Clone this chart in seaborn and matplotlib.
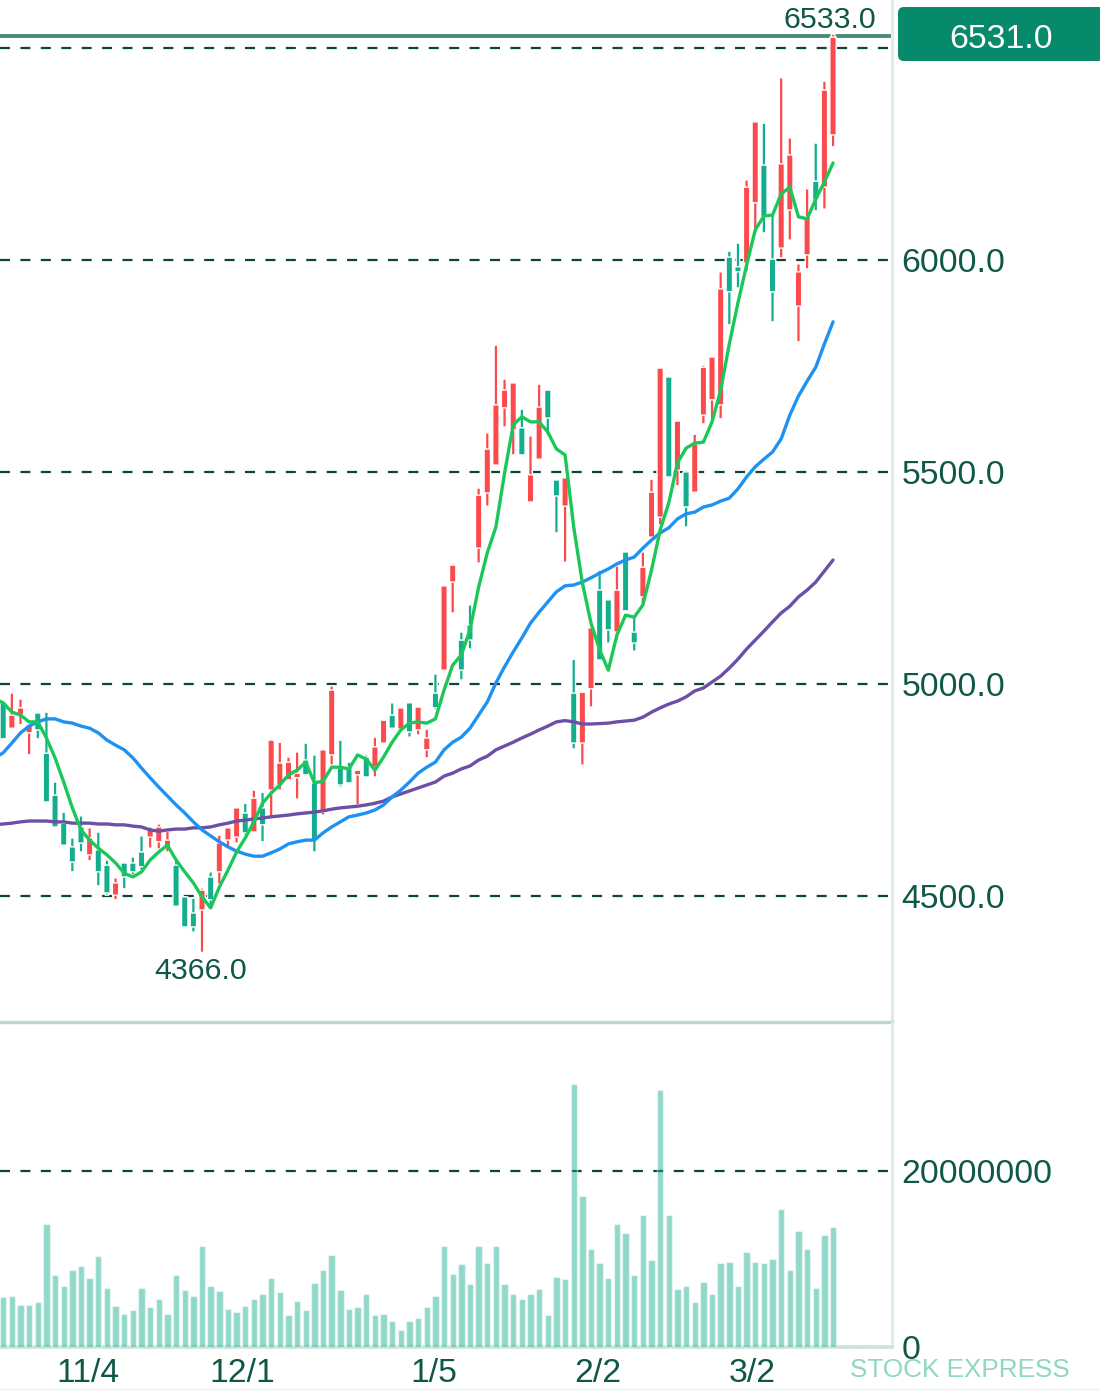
import numpy as np
import pandas as pd
import matplotlib
matplotlib.use("Agg")
import matplotlib.pyplot as plt
from matplotlib.patches import FancyBboxPatch
from matplotlib.lines import Line2D
import seaborn as sns

# prices, one entry per trading day
open_ = [4955, 4895, 4926, 4884, 4931, 4836, 4737, 4671, 4615, 4662, 4596, 4608, 4572, 4501, 4577, 4577, 4603, 4638, 4627, 4615,
         4572, 4497, 4459, 4466, 4544, 4556, 4631, 4638, 4695, 4650, 4707, 4749, 4761, 4773, 4778, 4820, 4766, 4697, 4832, 4801,
         4803, 4785, 4827, 4803, 4860, 4926, 4893, 4955, 4891, 4844, 4978, 5032, 5240, 5103, 5139, 5320, 5450, 5516, 5651, 5599,
         5604, 5429, 5530, 5693, 5481, 5419, 4978, 4860, 4988, 5221, 5198, 5122, 5311, 5122, 5205, 5346, 5393, 5724, 5504, 5500,
         5452, 5634, 5670, 5658, 6007, 5984, 5993, 6135, 6224, 6002, 6028, 6118, 5891, 6012, 6186, 6172, 6295]
high = [4955, 4978, 4964, 4907, 4931, 4933, 4768, 4697, 4636, 4688, 4660, 4650, 4584, 4542, 4577, 4591, 4641, 4662, 4669, 4652,
        4589, 4497, 4494, 4518, 4556, 4643, 4660, 4707, 4718, 4749, 4744, 4870, 4862, 4827, 4839, 4860, 4832, 4846, 4995, 4867,
        4815, 4796, 4832, 4874, 4914, 4955, 4943, 4955, 4945, 4893, 5023, 5233, 5283, 5122, 5186, 5462, 5592, 5799, 5719, 5710,
        5648, 5585, 5707, 5693, 5481, 5488, 5058, 4980, 5132, 5268, 5198, 5278, 5311, 5162, 5311, 5483, 5745, 5724, 5620, 5504,
        5589, 5752, 5771, 5972, 6021, 6040, 6189, 6326, 6323, 6111, 6430, 6288, 5991, 6168, 6276, 6422, 6533]
low = [4870, 4891, 4903, 4832, 4870, 4721, 4662, 4617, 4556, 4603, 4582, 4523, 4501, 4490, 4516, 4549, 4560, 4612, 4610, 4603,
       4475, 4426, 4414, 4366, 4471, 4527, 4612, 4624, 4643, 4650, 4627, 4685, 4749, 4773, 4728, 4782, 4603, 4690, 4808, 4756,
       4766, 4714, 4780, 4780, 4858, 4891, 4893, 4874, 4879, 4825, 4938, 5030, 5167, 5009, 5082, 5285, 5419, 5516, 5606, 5540,
       5540, 5429, 5530, 5587, 5356, 5287, 4846, 4808, 4945, 5056, 5096, 5103, 5172, 5077, 5186, 5344, 5375, 5488, 5467, 5370,
       5450, 5613, 5622, 5625, 5847, 5934, 5972, 6066, 6064, 5854, 6005, 6047, 5807, 5979, 6116, 6120, 6267]
close = [4870, 4926, 4943, 4903, 4891, 4721, 4662, 4619, 4579, 4624, 4636, 4556, 4506, 4530, 4544, 4556, 4568, 4655, 4662, 4631,
         4475, 4426, 4426, 4513, 4490, 4624, 4660, 4707, 4648, 4730, 4667, 4867, 4813, 4815, 4789, 4785, 4631, 4844, 4985, 4761,
         4766, 4796, 4780, 4851, 4914, 4895, 4943, 4886, 4945, 4872, 4943, 5231, 5280, 5032, 5103, 5445, 5554, 5658, 5693, 5710,
         5540, 5493, 5653, 5627, 5443, 5486, 4860, 4980, 5132, 5056, 5127, 5221, 5172, 5096, 5275, 5452, 5745, 5488, 5620, 5417,
         5566, 5747, 5771, 5932, 5925, 5972, 6172, 6326, 6102, 5925, 6227, 6248, 5972, 6102, 6142, 6401, 6526]

# moving averages start one day earlier, the lines run off the left edge
ma5 = [4964, 4955, 4933, 4926, 4910, 4910, 4872, 4825, 4768, 4707, 4655, 4631, 4612, 4596, 4577, 4553, 4544, 4556, 4584, 4603, 4619,
       4584, 4556, 4530, 4497, 4471, 4520, 4560, 4603, 4636, 4674, 4718, 4742, 4761, 4785, 4796, 4815, 4766, 4770, 4803, 4803,
       4799, 4832, 4822, 4796, 4827, 4862, 4891, 4907, 4910, 4907, 4917, 4985, 5044, 5068, 5127, 5228, 5309, 5370, 5497, 5611,
       5630, 5618, 5618, 5594, 5554, 5540, 5370, 5238, 5143, 5080, 5032, 5115, 5162, 5157, 5186, 5268, 5363, 5427, 5521, 5556,
       5568, 5570, 5618, 5693, 5802, 5899, 5988, 6071, 6104, 6106, 6156, 6172, 6102, 6097, 6144, 6184, 6229]
ma20 = [4825, 4837, 4860, 4884, 4900, 4910, 4917, 4917, 4910, 4907, 4900, 4895, 4884, 4867, 4855, 4844, 4825, 4801, 4778, 4756, 4735,
        4714, 4695, 4674, 4655, 4641, 4627, 4615, 4605, 4598, 4593, 4593, 4601, 4610, 4622, 4627, 4631, 4631, 4648, 4662, 4674,
        4686, 4690, 4695, 4702, 4714, 4733, 4749, 4768, 4789, 4803, 4815, 4844, 4862, 4874, 4895, 4926, 4957, 5002, 5040, 5075,
        5108, 5143, 5169, 5193, 5217, 5231, 5233, 5240, 5250, 5261, 5271, 5283, 5292, 5299, 5320, 5339, 5356, 5368, 5389, 5401,
        5405, 5417, 5422, 5431, 5438, 5460, 5488, 5512, 5530, 5547, 5578, 5634, 5679, 5714, 5747, 5802, 5854]
ma60 = [4667, 4669, 4671, 4674, 4676, 4676, 4676, 4674, 4674, 4671, 4671, 4671, 4669, 4669, 4667, 4667, 4664, 4662, 4655, 4652, 4655,
        4657, 4657, 4660, 4660, 4662, 4667, 4671, 4676, 4678, 4681, 4683, 4686, 4688, 4690, 4693, 4695, 4697, 4700, 4704, 4707,
        4709, 4711, 4714, 4718, 4723, 4733, 4740, 4747, 4754, 4761, 4768, 4782, 4789, 4799, 4806, 4820, 4829, 4844, 4853, 4862,
        4872, 4881, 4891, 4900, 4910, 4913, 4910, 4905, 4905, 4906, 4907, 4910, 4912, 4914, 4921, 4933, 4943, 4952, 4959, 4969,
        4983, 4990, 5004, 5018, 5037, 5058, 5082, 5103, 5124, 5146, 5167, 5183, 5205, 5221, 5240, 5266, 5292]

# volume in millions of shares
volume_m = [5.7, 5.8, 4.8, 4.8, 5.1, 14.0, 8.2, 6.9, 8.7, 9.2, 7.8, 10.3, 6.7, 4.7, 3.8, 4.2, 6.7, 4.5, 5.5, 3.8,
            8.2, 6.5, 5.8, 11.5, 6.9, 6.4, 4.3, 4.0, 4.7, 5.5, 6.0, 7.8, 6.3, 3.6, 5.2, 4.2, 7.3, 8.7, 10.5, 6.5,
            4.3, 4.5, 6.0, 3.6, 3.8, 3.0, 1.9, 3.0, 3.3, 4.6, 5.8, 11.5, 8.3, 9.4, 7.2, 11.5, 9.5, 11.5, 7.2, 6.0,
            5.5, 6.0, 6.6, 3.6, 8.0, 7.7, 29.9, 17.1, 11.1, 9.5, 7.8, 14.0, 13.0, 8.2, 15.0, 9.9, 29.2, 15.0, 6.6, 6.9,
            5.1, 7.4, 6.0, 9.5, 9.7, 6.9, 10.8, 9.6, 9.5, 10.0, 15.7, 8.8, 13.2, 11.1, 6.7, 12.7, 13.6]

price_ticks = [4500, 5000, 5500, 6000, 6500]
volume_ticks = [0, 20000000]
date_ticks = [9.8, 27.7, 49.8, 68.8, 86.7]
date_labels = ["11/4", "12/1", "1/5", "2/2", "3/2"]
last_price = 6531.0

df = pd.DataFrame({"open": open_, "high": high, "low": low, "close": close})
df["volume"] = np.array(volume_m) * 1000000
df["day"] = np.arange(len(df))
lines = pd.DataFrame({"ma5": ma5, "ma20": ma20, "ma60": ma60})
lines["day"] = np.arange(len(lines)) - 1

RED = "#FB4A4C"
GREEN = "#14AE8E"
TEXT = "#0F5747"
PALE = "#DDEDE9"
GRID = "#0D4637"

sns.set_theme(style="white")
plt.rcParams["font.family"] = ["Liberation Sans", "DejaVu Sans"]
plt.rcParams["lines.scale_dashes"] = False

W, H = 1100, 1399
fig = plt.figure(figsize=(W / 100, H / 100), dpi=100)
ax = fig.add_axes([0, (H - 1022) / H, 892 / W, 1022 / H])
vol_ax = fig.add_axes([0, (H - 1347) / H, 892 / W, 324 / H])

xlim = (-0.37, 102.82)

# candles, snapping off so that the thin wicks keep their width
colors = np.where(df["close"] >= df["open"], RED, GREEN)
wicks = ax.bar(df["day"], df["high"] - df["low"], bottom=df["low"], width=0.42, color=colors, zorder=3)
bodies = ax.bar(df["day"], (df["close"] - df["open"]).abs(), bottom=df[["open", "close"]].min(axis=1),
                width=0.74, color=colors, zorder=3)
for patch in list(wicks) + list(bodies):
    patch.set_snap(False)

# moving averages
sns.lineplot(data=lines, x="day", y="ma60", ax=ax, color="#6C4FA6", lw=2.4, errorbar=None, zorder=4)
sns.lineplot(data=lines, x="day", y="ma20", ax=ax, color="#1E92F2", lw=2.4, errorbar=None, zorder=4)
sns.lineplot(data=lines, x="day", y="ma5", ax=ax, color="#1CC75A", lw=2.4, errorbar=None, zorder=5)

for p in price_ticks:
    ax.axhline(p, color=GRID, lw=1.6, ls=(0, (7.2, 7.5)), zorder=1)
ax.axhline(6528, color="#4C8B7A", lw=2.8, zorder=2)

ax.annotate(f"{max(high):.1f}", (df["high"].idxmax(), 6533), xytext=(-2, 0), textcoords="offset points",
            ha="center", va="bottom", fontsize=21.9, color=TEXT, annotation_clip=False)
ax.annotate(f"{min(low):.1f}", (df["low"].idxmin(), min(low)), xytext=(-1, -3), textcoords="offset points",
            ha="center", va="top", fontsize=21.9, color=TEXT)

ax.set_xlim(xlim)
ax.set_ylim(4201.7, 6613.6)
ax.set_xlabel("")
ax.set_ylabel("")
ax.set_xticks([])
ax.yaxis.tick_right()
ax.set_yticks(price_ticks)
ax.set_yticklabels([f"{p:.1f}" for p in price_ticks])
ax.tick_params(axis="y", length=0, pad=7, labelsize=24.3, labelcolor=TEXT)

# volume
sns.barplot(data=df, x="day", y="volume", ax=vol_ax, native_scale=True, color=GREEN, alpha=0.47,
            width=0.74, saturation=1, errorbar=None, zorder=3)
for v in volume_ticks:
    vol_ax.axhline(v, color=GRID, lw=1.6, ls=(0, (7.2, 7.5)), zorder=1, clip_on=False)

vol_ax.set_xlim(xlim)
vol_ax.set_ylim(0, 36800000)
vol_ax.set_xlabel("")
vol_ax.set_ylabel("")
vol_ax.yaxis.tick_right()
vol_ax.set_yticks(volume_ticks)
vol_ax.set_yticklabels([str(v) for v in volume_ticks])
vol_ax.tick_params(axis="y", length=0, pad=7, labelsize=24.3, labelcolor=TEXT)
vol_ax.set_xticks(date_ticks)
vol_ax.set_xticklabels(date_labels)
vol_ax.tick_params(axis="x", length=7, width=2.2, color=PALE, pad=1, labelsize=24.3, labelcolor=TEXT)

# frame
for a in (ax, vol_ax):
    for side in ("top", "left", "bottom"):
        a.spines[side].set_visible(False)
    a.spines["right"].set_color(PALE)
    a.spines["right"].set_linewidth(2.2)
    a.patch.set_alpha(0)
ax.spines["bottom"].set_visible(True)
ax.spines["bottom"].set_color("#B7D9D0")
ax.spines["bottom"].set_linewidth(2.4)
vol_ax.spines["bottom"].set_visible(True)
vol_ax.spines["bottom"].set_color("#CBE3DC")
vol_ax.spines["bottom"].set_linewidth(2.6)

# overlay in pixel coordinates for the price badge and the footer
over = fig.add_axes([0, 0, 1, 1], zorder=10)
over.set_xlim(0, W)
over.set_ylim(H, 0)
over.axis("off")
over.add_patch(FancyBboxPatch((903, 12), 240, 44, boxstyle="round,pad=5,rounding_size=6",
                              fc="#078A6C", ec="none"))
over.text(1001, 39, f"{last_price:.1f}", color="white", fontsize=24.3, ha="center", va="center")
over.text(960, 1370, "STOCK EXPRESS", color="#8FD6C3", fontsize=18.8, ha="center", va="center")
over.add_line(Line2D([0, W], [1389, 1389], color="#EEF1F0", lw=1))

fig.savefig("out.png", dpi=100)
